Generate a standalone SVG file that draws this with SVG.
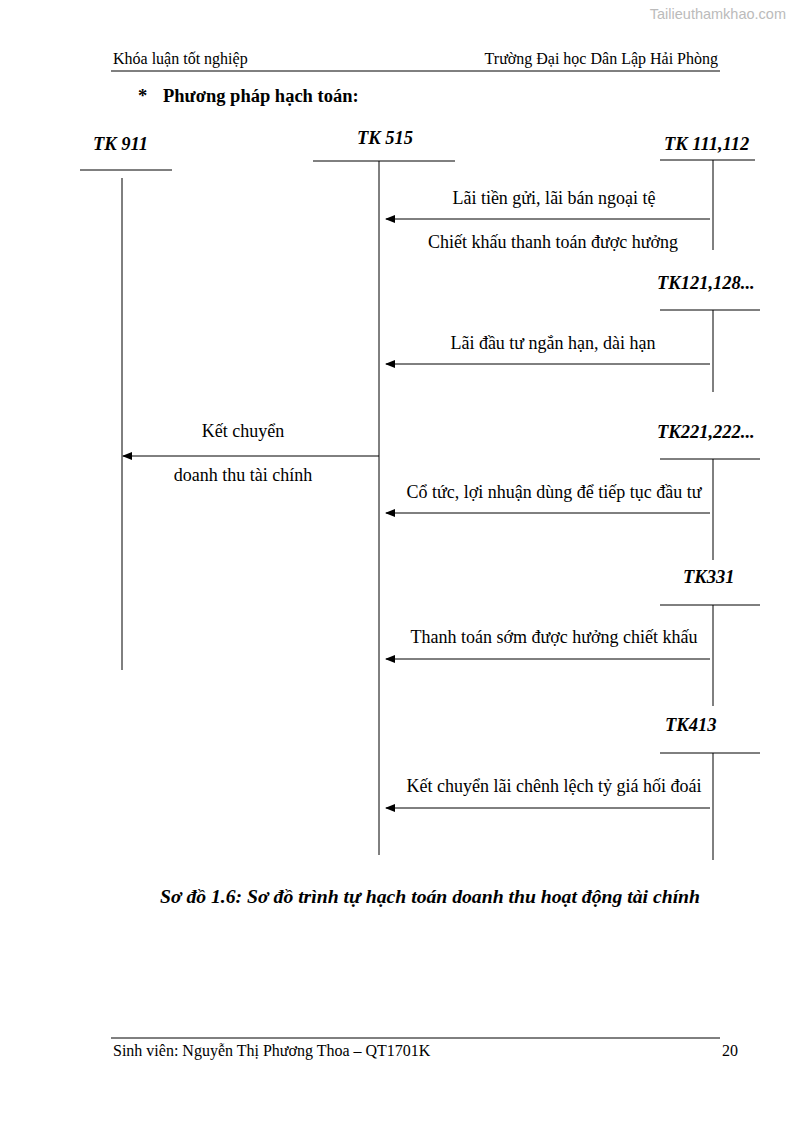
<svg xmlns="http://www.w3.org/2000/svg" width="794" height="1123" viewBox="0 0 794 1123">
<style>
text{font-family:"Liberation Serif",serif;fill:#000}
.h{font-size:16px}
.t{font-size:18px}
.tk{font-size:18.5px;font-weight:bold;font-style:italic}
.c{text-anchor:middle}
line{stroke:#000;stroke-width:1}
.a{marker-end:url(#ah)}
</style>
<defs><marker id="ah" markerWidth="10" markerHeight="8" refX="9" refY="4" orient="auto" markerUnits="userSpaceOnUse"><path d="M0,0 L10,4 L0,8 z" fill="#000"/></marker></defs>
<rect width="794" height="1123" fill="#fff"/>
<text x="786" y="19" style="font-family:'Liberation Sans',sans-serif;font-size:14.5px;fill:#bbb" text-anchor="end">Tailieuthamkhao.com</text>
<text class="h" x="113" y="64">Khóa luận tốt nghiệp</text>
<text class="h" x="718" y="64" text-anchor="end">Trường Đại học Dân Lập Hải Phòng</text>
<line x1="111" y1="71" x2="720" y2="71"/>
<text x="138" y="102" style="font-size:18.5px;font-weight:bold">*</text>
<text x="163" y="102" style="font-size:18.5px;font-weight:bold">Phương pháp hạch toán:</text>
<g id="tk911"><text class="tk" x="93" y="150">TK 911</text><line x1="80" y1="170" x2="172" y2="170"/><line x1="122" y1="178" x2="122" y2="670"/></g>
<g id="tk515"><text class="tk" x="357" y="144">TK 515</text><line x1="313" y1="161" x2="455" y2="161"/><line x1="379" y1="161" x2="379" y2="855"/></g>
<g id="tk111"><text class="tk" x="664" y="150">TK 111,112</text><line x1="660" y1="160" x2="755" y2="160"/><line x1="713" y1="160" x2="713" y2="250"/></g>
<g id="tk121"><text class="tk" x="657" y="289">TK121,128...</text><line x1="660" y1="310" x2="760" y2="310"/><line x1="713" y1="310" x2="713" y2="392"/></g>
<g id="tk221"><text class="tk" x="657" y="438">TK221,222...</text><line x1="660" y1="459" x2="760" y2="459"/><line x1="713" y1="459" x2="713" y2="560"/></g>
<g id="tk331"><text class="tk" x="683" y="583">TK331</text><line x1="660" y1="605" x2="760" y2="605"/><line x1="713" y1="605" x2="713" y2="706"/></g>
<g id="tk413"><text class="tk" x="665" y="731">TK413</text><line x1="660" y1="753" x2="760" y2="753"/><line x1="713" y1="753" x2="713" y2="860"/></g>
<g id="connectors">
<line class="a" x1="710" y1="219" x2="386" y2="219"/>
<line class="a" x1="710" y1="364" x2="386" y2="364"/>
<line class="a" x1="379" y1="456" x2="123" y2="456"/>
<line class="a" x1="710" y1="513" x2="386" y2="513"/>
<line class="a" x1="710" y1="659" x2="386" y2="659"/>
<line class="a" x1="710" y1="808" x2="386" y2="808"/>
</g>
<g id="labels">
<text class="t c" x="554" y="204">Lãi tiền gửi, lãi bán ngoại tệ</text>
<text class="t c" x="553" y="248">Chiết khấu thanh toán được hưởng</text>
<text class="t c" x="553" y="349">Lãi đầu tư ngắn hạn, dài hạn</text>
<text class="t c" x="243" y="437">Kết chuyển</text>
<text class="t c" x="243" y="481">doanh thu tài chính</text>
<text class="t c" x="554" y="498">Cổ tức, lợi nhuận dùng để tiếp tục đầu tư</text>
<text class="t c" x="554" y="643">Thanh toán sớm được hưởng chiết khấu</text>
<text class="t c" x="554" y="792">Kết chuyển lãi chênh lệch tỷ giá hối đoái</text>
</g>
<text x="430" y="903" class="c" style="font-size:19.7px;font-weight:bold;font-style:italic">Sơ đồ 1.6: Sơ đồ trình tự hạch toán doanh thu hoạt động tài chính</text>
<line x1="111" y1="1038" x2="720" y2="1038"/>
<text class="h" x="113" y="1056">Sinh viên: Nguyễn Thị Phương Thoa – QT1701K</text>
<text class="h" x="738" y="1056" text-anchor="end">20</text>
</svg>
